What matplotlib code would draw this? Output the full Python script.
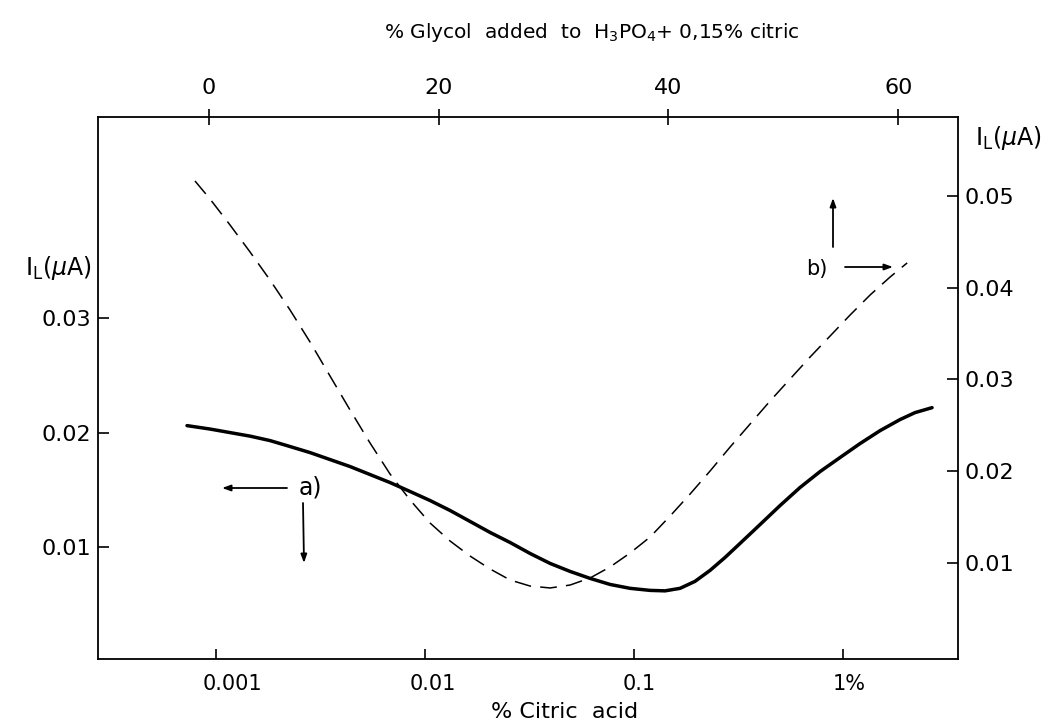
import matplotlib
matplotlib.use("Agg")
import matplotlib.pyplot as plt
import matplotlib.transforms as mtransforms

# Curve a): % citric acid (log, bottom axis) vs I_L (left axis)
citric_pct = [0.000726, 0.000936, 0.001167, 0.001455, 0.001813, 0.002260, 0.002818,
              0.003512, 0.004377, 0.005455, 0.006800, 0.008476, 0.010566, 0.013170,
              0.016420, 0.020460, 0.025510, 0.031800, 0.039630, 0.049400, 0.061580,
              0.076770, 0.095700, 0.119300, 0.140700, 0.166000, 0.195700, 0.231000,
              0.272500, 0.321500, 0.400800, 0.499500, 0.622600, 0.776200, 0.967400,
              1.2058, 1.5031, 1.8738, 2.2110, 2.6660]
IL_a = [0.02061, 0.02031, 0.02000, 0.01969, 0.01930, 0.01878, 0.01825,
        0.01764, 0.01703, 0.01633, 0.01563, 0.01485, 0.01406, 0.01319,
        0.01223, 0.01127, 0.01039, 0.00943, 0.00856, 0.00786, 0.00725,
        0.00672, 0.00638, 0.00620, 0.00616, 0.00638, 0.00699, 0.00795,
        0.00908, 0.01031, 0.01196, 0.01362, 0.01520, 0.01659, 0.01782,
        0.01904, 0.02017, 0.02114, 0.02175, 0.02218]

# Curve b): % glycol added (linear, top axis) vs I_L (right axis)
glycol_pct = [-1.219, 0.087, 1.828, 3.570, 5.311, 7.052, 8.794, 10.535, 12.277,
              14.018, 15.760, 17.501, 19.243, 20.984, 22.725, 24.467, 26.208,
              27.950, 29.691, 31.432, 33.174, 34.915, 36.657, 38.398, 40.139,
              41.881, 43.622, 45.364, 47.105, 48.846, 50.588, 52.329, 54.071,
              55.812, 57.553, 59.295, 60.775]
IL_b = [0.05163, 0.04967, 0.04684, 0.04390, 0.04084, 0.03758, 0.03409, 0.03038,
        0.02668, 0.02308, 0.01970, 0.01687, 0.01436, 0.01240, 0.01076, 0.00935,
        0.00815, 0.00749, 0.00728, 0.00760, 0.00837, 0.00957, 0.01109, 0.01283,
        0.01512, 0.01752, 0.02003, 0.02264, 0.02515, 0.02766, 0.03006, 0.03245,
        0.03474, 0.03703, 0.03921, 0.04117, 0.04270]

bottom_ticks = [0.001, 0.01, 0.1, 1]
bottom_labels = ["0.001", "0.01", "0.1", "1%"]
top_ticks = [0, 20, 40, 60]
left_ticks = [0.01, 0.02, 0.03]
left_labels = ["0.01", "0.02", "0.03"]
right_ticks = [0.01, 0.02, 0.03, 0.04, 0.05]
right_labels = ["0.01", "0.02", "0.03", "0.04", "0.05"]

plt.rcParams['font.family'] = ['DejaVu Sans']
fig = plt.figure(figsize=(10.6, 7.26), dpi=100)
pos = [98/1060, 1-659/726, 860/1060, 542/726]
ax = fig.add_axes(pos)
ax2 = fig.add_axes(pos, facecolor='none')

# bottom / left axes
ax.plot(citric_pct, IL_a, color='black', lw=2.5, solid_capstyle='round',
        solid_joinstyle='round')
ax.set_xscale('log')
ax.set_xlim(10**-3.565, 10**0.55)
ax.set_ylim(0.0002, 0.0476)
ax.set_xticks(bottom_ticks)
ax.set_xticklabels(bottom_labels)
ax.xaxis.set_minor_locator(matplotlib.ticker.NullLocator())
ax.set_yticks(left_ticks)
ax.set_yticklabels(left_labels)
ax.tick_params(axis='x', direction='in', length=7, width=1.2, pad=11, labelsize=15)
ax.tick_params(axis='y', direction='in', length=8, width=1.2, pad=5, labelsize=16)
ax.tick_params(top=False, right=False)
for s in ax.spines.values():
    s.set_linewidth(1.3)

offsets = [16, 8, 5, 6]
for lab, dx in zip(ax.get_xticklabels(), offsets):
    lab.set_transform(lab.get_transform() +
                      mtransforms.ScaledTranslation(dx/100, 0, fig.dpi_scale_trans))

ax.set_xlabel("% Citric  acid", fontsize=16)
ax.xaxis.set_label_coords((565-98)/860, -0.08)

# top / right axes
ax2.plot(glycol_pct, IL_b, color='black', lw=1.1, dashes=(11, 6))
ax2.set_xlim(-9.66, 65.2)
ax2.set_ylim(-0.00046, 0.0586)
ax2.xaxis.tick_top()
ax2.yaxis.tick_right()
ax2.set_xticks(top_ticks)
ax2.set_yticks(right_ticks)
ax2.set_yticklabels(right_labels)
ax2.tick_params(axis='x', direction='inout', length=11, width=1.2, pad=8, labelsize=16)
ax2.tick_params(axis='y', direction='in', length=8, width=1.2, pad=5, labelsize=16)
for s in ax2.spines.values():
    s.set_visible(False)

# axis unit labels
fig.text(58/1060, 1-268/726, r"I$_{\mathrm{L}}$($\mu$A)", fontsize=17,
         ha='center', va='center')
fig.text(1008/1060, 1-138/726, r"I$_{\mathrm{L}}$($\mu$A)", fontsize=17,
         ha='center', va='center')

fig.text(592/1060, 1-32/726, r"% Glycol  added  to  H$_3$PO$_4$+ 0,15% citric",
         fontsize=14.5, ha='center', va='center')

# curve identifiers with arrows (axes fraction)
def fx(x):
    return (x-98)/860
def fy(y):
    return (659-y)/542

arrow = dict(arrowstyle='-|>,head_length=0.5,head_width=0.18', color='black', lw=1.3,
             shrinkA=0, shrinkB=0)
ax.text(fx(310), fy(488), "a)", fontsize=17, ha='center', va='center',
        transform=ax.transAxes)
ax.annotate("", xy=(fx(222), fy(488)), xytext=(fx(287), fy(488)),
            xycoords='axes fraction', textcoords='axes fraction', arrowprops=arrow)
ax.annotate("", xy=(fx(304), fy(563)), xytext=(fx(303), fy(503)),
            xycoords='axes fraction', textcoords='axes fraction', arrowprops=arrow)

ax.text(fx(817), fy(269), "b)", fontsize=15, ha='center', va='center',
        transform=ax.transAxes)
ax.annotate("", xy=(fx(893), fy(267)), xytext=(fx(845), fy(267)),
            xycoords='axes fraction', textcoords='axes fraction', arrowprops=arrow)
ax.annotate("", xy=(fx(833), fy(198)), xytext=(fx(833), fy(247)),
            xycoords='axes fraction', textcoords='axes fraction', arrowprops=arrow)

fig.savefig("out.png", dpi=100)
